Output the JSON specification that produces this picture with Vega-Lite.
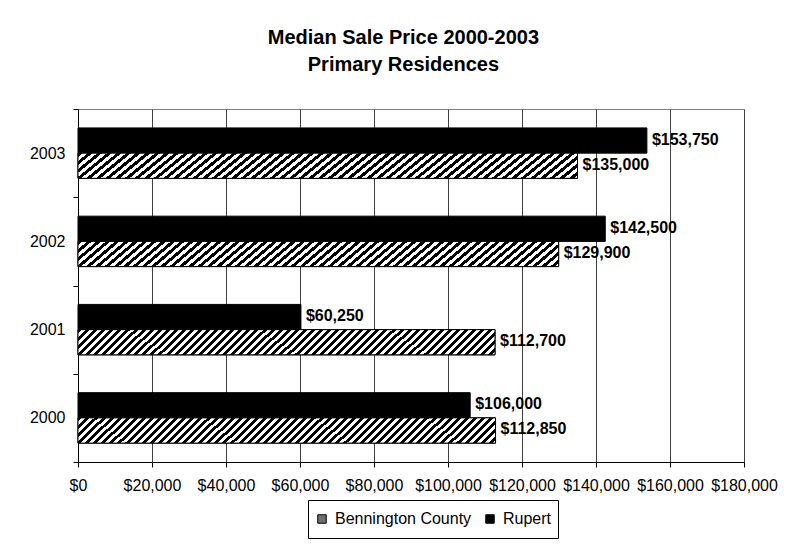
{
  "$schema": "https://vega.github.io/schema/vega-lite/v6.json",
  "width": 666,
  "height": 353,
  "padding": {"left": 29, "top": 28, "right": 8, "bottom": 5},
  "background": "white",
  "title": {
    "text": ["Median Sale Price 2000-2003", "Primary Residences"],
    "font": "Liberation Sans",
    "fontSize": 20,
    "fontWeight": "bold",
    "lineHeight": 27,
    "color": "#000",
    "anchor": "middle",
    "frame": "bounds",
    "offset": 26
  },
  "data": {
    "values": [
      {"year": "2003", "series": "Rupert", "price": 153750},
      {"year": "2003", "series": "Bennington County", "price": 135000},
      {"year": "2002", "series": "Rupert", "price": 142500},
      {"year": "2002", "series": "Bennington County", "price": 129900},
      {"year": "2001", "series": "Rupert", "price": 60250},
      {"year": "2001", "series": "Bennington County", "price": 112700},
      {"year": "2000", "series": "Rupert", "price": 106000},
      {"year": "2000", "series": "Bennington County", "price": 112850}
    ]
  },
  "encoding": {
    "y": {
      "field": "year",
      "type": "nominal",
      "sort": ["2003", "2002", "2001", "2000"],
      "scale": {"paddingInner": 0, "paddingOuter": 0},
      "axis": {
        "title": null,
        "tickBand": "extent",
        "tickSize": 5,
        "labelPadding": 8,
        "labelFont": "Liberation Sans",
        "labelFontSize": 16,
        "labelColor": "#000",
        "domainColor": "#000",
        "tickColor": "#000",
        "grid": false
      }
    },
    "yOffset": {
      "field": "series",
      "type": "nominal",
      "sort": ["Rupert", "Bennington County"],
      "scale": {"domain": ["Rupert", "Bennington County"], "paddingOuter": 0.75, "paddingInner": 0}
    },
    "x": {
      "field": "price",
      "type": "quantitative",
      "scale": {"domain": [0, 180000], "nice": false},
      "axis": {
        "title": null,
        "values": [0, 20000, 40000, 60000, 80000, 100000, 120000, 140000, 160000, 180000],
        "format": "$,.0f",
        "labelFont": "Liberation Sans",
        "labelFontSize": 16,
        "labelColor": "#000",
        "labelFlush": false,
        "labelOverlap": false,
        "labelPadding": 10,
        "tickSize": 5,
        "tickColor": "#000",
        "domainColor": "#000",
        "grid": true,
        "gridColor": "#404040",
        "gridOpacity": 1
      }
    }
  },
  "layer": [
    {
      "mark": {"type": "bar", "stroke": "#000", "strokeWidth": 1},
      "encoding": {
        "color": {
          "field": "series",
          "type": "nominal",
          "scale": {
            "domain": ["Bennington County", "Rupert"],
            "range": ["#707070", "#000"]
          },
          "legend": {
            "title": null,
            "orient": "none",
            "legendX": 230,
            "legendY": 391,
            "direction": "horizontal",
            "strokeColor": "#000",
            "fillColor": "#fff",
            "padding": 6,
            "clipHeight": 26,
            "symbolType": "square",
            "symbolSize": 72,
            "symbolStrokeColor": "#000",
            "symbolStrokeWidth": 1,
            "symbolOpacity": 1,
            "labelFont": "Liberation Sans",
            "labelFontSize": 16,
            "labelColor": "#000",
            "labelOffset": 5,
            "columnPadding": 10
          }
        }
      }
    },
    {
      "transform": [{"filter": "datum.series === 'Bennington County'"}],
      "mark": {
        "type": "bar",
        "stroke": "#000",
        "strokeWidth": 1,
        "fill": {
          "gradient": "linear",
          "x1": 0, "y1": 0, "x2": 1.07, "y2": 0.066,
          "stops": [
{"offset":0,"color":"#000"},{"offset":0.009,"color":"#000"},
{"offset":0.009,"color":"#fff"},{"offset":0.018,"color":"#fff"},
{"offset":0.018,"color":"#000"},{"offset":0.027,"color":"#000"},
{"offset":0.027,"color":"#fff"},{"offset":0.036,"color":"#fff"},
{"offset":0.036,"color":"#000"},{"offset":0.045,"color":"#000"},
{"offset":0.045,"color":"#fff"},{"offset":0.054,"color":"#fff"},
{"offset":0.054,"color":"#000"},{"offset":0.063,"color":"#000"},
{"offset":0.063,"color":"#fff"},{"offset":0.072,"color":"#fff"},
{"offset":0.072,"color":"#000"},{"offset":0.081,"color":"#000"},
{"offset":0.081,"color":"#fff"},{"offset":0.09,"color":"#fff"},
{"offset":0.09,"color":"#000"},{"offset":0.099,"color":"#000"},
{"offset":0.099,"color":"#fff"},{"offset":0.108,"color":"#fff"},
{"offset":0.108,"color":"#000"},{"offset":0.117,"color":"#000"},
{"offset":0.117,"color":"#fff"},{"offset":0.126,"color":"#fff"},
{"offset":0.126,"color":"#000"},{"offset":0.135,"color":"#000"},
{"offset":0.135,"color":"#fff"},{"offset":0.144,"color":"#fff"},
{"offset":0.144,"color":"#000"},{"offset":0.153,"color":"#000"},
{"offset":0.153,"color":"#fff"},{"offset":0.162,"color":"#fff"},
{"offset":0.162,"color":"#000"},{"offset":0.171,"color":"#000"},
{"offset":0.171,"color":"#fff"},{"offset":0.18,"color":"#fff"},
{"offset":0.18,"color":"#000"},{"offset":0.189,"color":"#000"},
{"offset":0.189,"color":"#fff"},{"offset":0.198,"color":"#fff"},
{"offset":0.198,"color":"#000"},{"offset":0.207,"color":"#000"},
{"offset":0.207,"color":"#fff"},{"offset":0.216,"color":"#fff"},
{"offset":0.216,"color":"#000"},{"offset":0.225,"color":"#000"},
{"offset":0.225,"color":"#fff"},{"offset":0.234,"color":"#fff"},
{"offset":0.234,"color":"#000"},{"offset":0.243,"color":"#000"},
{"offset":0.243,"color":"#fff"},{"offset":0.252,"color":"#fff"},
{"offset":0.252,"color":"#000"},{"offset":0.261,"color":"#000"},
{"offset":0.261,"color":"#fff"},{"offset":0.27,"color":"#fff"},
{"offset":0.27,"color":"#000"},{"offset":0.279,"color":"#000"},
{"offset":0.279,"color":"#fff"},{"offset":0.288,"color":"#fff"},
{"offset":0.288,"color":"#000"},{"offset":0.297,"color":"#000"},
{"offset":0.297,"color":"#fff"},{"offset":0.306,"color":"#fff"},
{"offset":0.306,"color":"#000"},{"offset":0.315,"color":"#000"},
{"offset":0.315,"color":"#fff"},{"offset":0.324,"color":"#fff"},
{"offset":0.324,"color":"#000"},{"offset":0.333,"color":"#000"},
{"offset":0.333,"color":"#fff"},{"offset":0.342,"color":"#fff"},
{"offset":0.342,"color":"#000"},{"offset":0.351,"color":"#000"},
{"offset":0.351,"color":"#fff"},{"offset":0.36,"color":"#fff"},
{"offset":0.36,"color":"#000"},{"offset":0.369,"color":"#000"},
{"offset":0.369,"color":"#fff"},{"offset":0.378,"color":"#fff"},
{"offset":0.378,"color":"#000"},{"offset":0.387,"color":"#000"},
{"offset":0.387,"color":"#fff"},{"offset":0.396,"color":"#fff"},
{"offset":0.396,"color":"#000"},{"offset":0.405,"color":"#000"},
{"offset":0.405,"color":"#fff"},{"offset":0.414,"color":"#fff"},
{"offset":0.414,"color":"#000"},{"offset":0.423,"color":"#000"},
{"offset":0.423,"color":"#fff"},{"offset":0.432,"color":"#fff"},
{"offset":0.432,"color":"#000"},{"offset":0.441,"color":"#000"},
{"offset":0.441,"color":"#fff"},{"offset":0.45,"color":"#fff"},
{"offset":0.45,"color":"#000"},{"offset":0.459,"color":"#000"},
{"offset":0.459,"color":"#fff"},{"offset":0.468,"color":"#fff"},
{"offset":0.468,"color":"#000"},{"offset":0.477,"color":"#000"},
{"offset":0.477,"color":"#fff"},{"offset":0.486,"color":"#fff"},
{"offset":0.486,"color":"#000"},{"offset":0.495,"color":"#000"},
{"offset":0.495,"color":"#fff"},{"offset":0.504,"color":"#fff"},
{"offset":0.504,"color":"#000"},{"offset":0.513,"color":"#000"},
{"offset":0.513,"color":"#fff"},{"offset":0.522,"color":"#fff"},
{"offset":0.522,"color":"#000"},{"offset":0.531,"color":"#000"},
{"offset":0.531,"color":"#fff"},{"offset":0.54,"color":"#fff"},
{"offset":0.54,"color":"#000"},{"offset":0.549,"color":"#000"},
{"offset":0.549,"color":"#fff"},{"offset":0.558,"color":"#fff"},
{"offset":0.558,"color":"#000"},{"offset":0.567,"color":"#000"},
{"offset":0.567,"color":"#fff"},{"offset":0.576,"color":"#fff"},
{"offset":0.576,"color":"#000"},{"offset":0.585,"color":"#000"},
{"offset":0.585,"color":"#fff"},{"offset":0.594,"color":"#fff"},
{"offset":0.594,"color":"#000"},{"offset":0.603,"color":"#000"},
{"offset":0.603,"color":"#fff"},{"offset":0.612,"color":"#fff"},
{"offset":0.612,"color":"#000"},{"offset":0.621,"color":"#000"},
{"offset":0.621,"color":"#fff"},{"offset":0.63,"color":"#fff"},
{"offset":0.63,"color":"#000"},{"offset":0.639,"color":"#000"},
{"offset":0.639,"color":"#fff"},{"offset":0.648,"color":"#fff"},
{"offset":0.648,"color":"#000"},{"offset":0.657,"color":"#000"},
{"offset":0.657,"color":"#fff"},{"offset":0.666,"color":"#fff"},
{"offset":0.666,"color":"#000"},{"offset":0.675,"color":"#000"},
{"offset":0.675,"color":"#fff"},{"offset":0.684,"color":"#fff"},
{"offset":0.684,"color":"#000"},{"offset":0.693,"color":"#000"},
{"offset":0.693,"color":"#fff"},{"offset":0.702,"color":"#fff"},
{"offset":0.702,"color":"#000"},{"offset":0.711,"color":"#000"},
{"offset":0.711,"color":"#fff"},{"offset":0.72,"color":"#fff"},
{"offset":0.72,"color":"#000"},{"offset":0.729,"color":"#000"},
{"offset":0.729,"color":"#fff"},{"offset":0.738,"color":"#fff"},
{"offset":0.738,"color":"#000"},{"offset":0.747,"color":"#000"},
{"offset":0.747,"color":"#fff"},{"offset":0.756,"color":"#fff"},
{"offset":0.756,"color":"#000"},{"offset":0.765,"color":"#000"},
{"offset":0.765,"color":"#fff"},{"offset":0.774,"color":"#fff"},
{"offset":0.774,"color":"#000"},{"offset":0.783,"color":"#000"},
{"offset":0.783,"color":"#fff"},{"offset":0.792,"color":"#fff"},
{"offset":0.792,"color":"#000"},{"offset":0.801,"color":"#000"},
{"offset":0.801,"color":"#fff"},{"offset":0.81,"color":"#fff"},
{"offset":0.81,"color":"#000"},{"offset":0.819,"color":"#000"},
{"offset":0.819,"color":"#fff"},{"offset":0.828,"color":"#fff"},
{"offset":0.828,"color":"#000"},{"offset":0.837,"color":"#000"},
{"offset":0.837,"color":"#fff"},{"offset":0.846,"color":"#fff"},
{"offset":0.846,"color":"#000"},{"offset":0.855,"color":"#000"},
{"offset":0.855,"color":"#fff"},{"offset":0.864,"color":"#fff"},
{"offset":0.864,"color":"#000"},{"offset":0.873,"color":"#000"},
{"offset":0.873,"color":"#fff"},{"offset":0.882,"color":"#fff"},
{"offset":0.882,"color":"#000"},{"offset":0.891,"color":"#000"},
{"offset":0.891,"color":"#fff"},{"offset":0.9,"color":"#fff"},
{"offset":0.9,"color":"#000"},{"offset":0.909,"color":"#000"},
{"offset":0.909,"color":"#fff"},{"offset":0.918,"color":"#fff"},
{"offset":0.918,"color":"#000"},{"offset":0.927,"color":"#000"},
{"offset":0.927,"color":"#fff"},{"offset":0.936,"color":"#fff"},
{"offset":0.936,"color":"#000"},{"offset":0.945,"color":"#000"},
{"offset":0.945,"color":"#fff"},{"offset":0.954,"color":"#fff"},
{"offset":0.954,"color":"#000"},{"offset":0.963,"color":"#000"},
{"offset":0.963,"color":"#fff"},{"offset":0.972,"color":"#fff"},
{"offset":0.972,"color":"#000"},{"offset":0.981,"color":"#000"},
{"offset":0.981,"color":"#fff"},{"offset":0.99,"color":"#fff"},
{"offset":0.99,"color":"#000"},{"offset":0.999,"color":"#000"},
{"offset":0.999,"color":"#fff"},{"offset":1,"color":"#fff"}
          ]
        }
      }
    },
    {
      "mark": {
        "type": "text",
        "align": "left",
        "baseline": "middle",
        "dx": 5,
        "dy": -1,
        "font": "Liberation Sans",
        "fontSize": 16,
        "fontWeight": "bold",
        "color": "#000"
      },
      "encoding": {
        "text": {"field": "price", "type": "quantitative", "format": "$,.0f"}
      }
    }
  ],
  "config": {
    "view": {"stroke": "#808080", "strokeWidth": 1}
  }
}
